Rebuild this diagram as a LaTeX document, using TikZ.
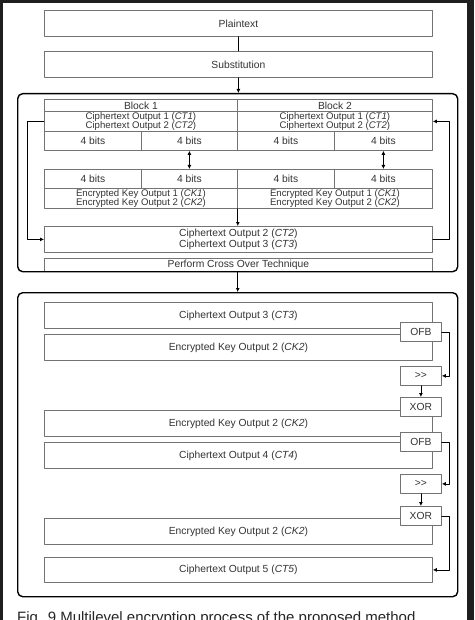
\documentclass[tikz,border=0pt]{standalone}
\usepackage{fontspec}
\setmainfont{Liberation Sans}
\usetikzlibrary{arrows.meta}
\definecolor{boxgray}{gray}{0.45}
\definecolor{txtgray}{gray}{0.2}
\begin{document}
\begin{tikzpicture}[x=1pt,y=-1pt,line cap=round,line join=round,
  font=\fontsize{10.3}{9.5}\selectfont,
  cell/.style={draw=boxgray,line width=0.8pt,anchor=north west,inner sep=0pt,text=txtgray,align=center},
  pair/.style={cell,minimum height=20,font=\fontsize{9.6}{9.1}\selectfont},
  stage/.style={draw=black,line width=1.4pt,rounded corners=5pt,anchor=north west,inner sep=0pt},
  tag/.style={cell,fill=white,minimum width=41,minimum height=19},
  link/.style={line width=0.8pt},
  arr/.style={line width=0.8pt,-{Latex[length=4pt,width=4pt]}},
  darr/.style={line width=0.8pt,{Latex[length=4pt,width=4pt]}-{Latex[length=4pt,width=4pt]}}]
  \useasboundingbox (0,0) rectangle (474,620);
  % page frame of the scan
  \fill[black!88] (0,0) rectangle (474,620);
  \fill[white] (3,3) rectangle (467,621);

  \node[cell,minimum width=388,minimum height=26] (plain) at (44,10) {Plaintext};
  \node[cell,minimum width=388,minimum height=26] (subst) at (44,51) {Substitution};

  % first stage
  \node[cell,minimum width=193,minimum height=12] (blkA) at (44,99) {Block 1};
  \node[cell,minimum width=195,minimum height=12] (blkB) at (237,99) {Block 2};
  \node[pair,minimum width=193] (ctA) at (44,111) {Ciphertext Output 1 (\textit{CT1})\\Ciphertext Output 2 (\textit{CT2})};
  \node[pair,minimum width=195] (ctB) at (237,111) {Ciphertext Output 1 (\textit{CT1})\\Ciphertext Output 2 (\textit{CT2})};
  \node[cell,minimum width=97,minimum height=19] (bitsA1) at (44,131) {4 bits};
  \node[cell,minimum width=96,minimum height=19] (bitsA2) at (141,131) {4 bits};
  \node[cell,minimum width=97,minimum height=19] (bitsB1) at (237,131) {4 bits};
  \node[cell,minimum width=98,minimum height=19] (bitsB2) at (334,131) {4 bits};
  \node[cell,minimum width=97,minimum height=19] (kbitsA1) at (44,169) {4 bits};
  \node[cell,minimum width=96,minimum height=19] (kbitsA2) at (141,169) {4 bits};
  \node[cell,minimum width=97,minimum height=19] (kbitsB1) at (237,169) {4 bits};
  \node[cell,minimum width=98,minimum height=19] (kbitsB2) at (334,169) {4 bits};
  \node[pair,minimum width=193] (keyA) at (44,188) {Encrypted Key Output 1 (\textit{CK1})\\Encrypted Key Output 2 (\textit{CK2})};
  \node[pair,minimum width=195] (keyB) at (237,188) {Encrypted Key Output 1 (\textit{CK1})\\Encrypted Key Output 2 (\textit{CK2})};
  \node[cell,minimum width=388,minimum height=26] (ct23) at (44,226) {Ciphertext Output 2 (\textit{CT2})\\Ciphertext Output 3 (\textit{CT3})};
  \node[cell,minimum width=388,minimum height=13] (cross) at (44,258) {Perform Cross Over Technique};
  \node[stage,minimum width=440,minimum height=178] (stageA) at (17,93) {};

  % second stage
  \node[cell,minimum width=388,minimum height=26] (ct3) at (44,302) {Ciphertext Output 3 (\textit{CT3})};
  \node[cell,minimum width=388,minimum height=26] (ckA) at (44,334) {Encrypted Key Output 2 (\textit{CK2})};
  \node[cell,minimum width=388,minimum height=26] (ckB) at (44,410) {Encrypted Key Output 2 (\textit{CK2})};
  \node[cell,minimum width=388,minimum height=26] (ct4) at (44,442) {Ciphertext Output 4 (\textit{CT4})};
  \node[cell,minimum width=388,minimum height=26] (ckC) at (44,518) {Encrypted Key Output 2 (\textit{CK2})};
  \node[cell,minimum width=388,minimum height=25] (ct5) at (44,557) {Ciphertext Output 5 (\textit{CT5})};
  \node[tag] (ofbA) at (400,322) {OFB};
  \node[tag] (shrA) at (400,366) {{>}{>}};
  \node[tag] (xorA) at (400,397) {XOR};
  \node[tag] (ofbB) at (400,432) {OFB};
  \node[tag] (shrB) at (400,474) {{>}{>}};
  \node[tag] (xorB) at (400,506) {XOR};
  \node[stage,minimum width=440,minimum height=304] (stageB) at (17,292) {};

  \coordinate (fbL) at (27,0);
  \coordinate (fbR) at (449,0);

  \draw[link] (plain) -- (subst);
  \draw[arr] (subst.south) -- (subst.south |- stageA.north);
  \draw[darr] (bitsA2) -- (kbitsA2);
  \draw[darr] (bitsB2) -- (kbitsB2);
  \draw[arr] (keyA.south east) -- (keyA.south east |- ct23.north);
  \draw[arr] (ctA.west) -- (ctA.west -| fbL) |- (ct23.west);
  \draw[arr] (ct23.east) -- (ct23.east -| fbR) |- (ctB.east);
  \draw[arr] (stageA) -- (stageB);
  \draw[arr] (ofbA.east) -- (ofbA.east -| fbR) |- (shrA.east);
  \draw[arr] (shrA) -- (xorA);
  \draw[arr] (ofbB.east) -- (ofbB.east -| fbR) |- (shrB.east);
  \draw[arr] (shrB) -- (xorB);
  \draw[arr] (xorB.east) -- (xorB.east -| fbR) |- (ct5.east);

  \node[anchor=base west,inner sep=0pt,font=\fontsize{15}{18}\selectfont,text=black!85] (caption) at (17,622) {Fig. 9 Multilevel encryption process of the proposed method};
\end{tikzpicture}
\end{document}
